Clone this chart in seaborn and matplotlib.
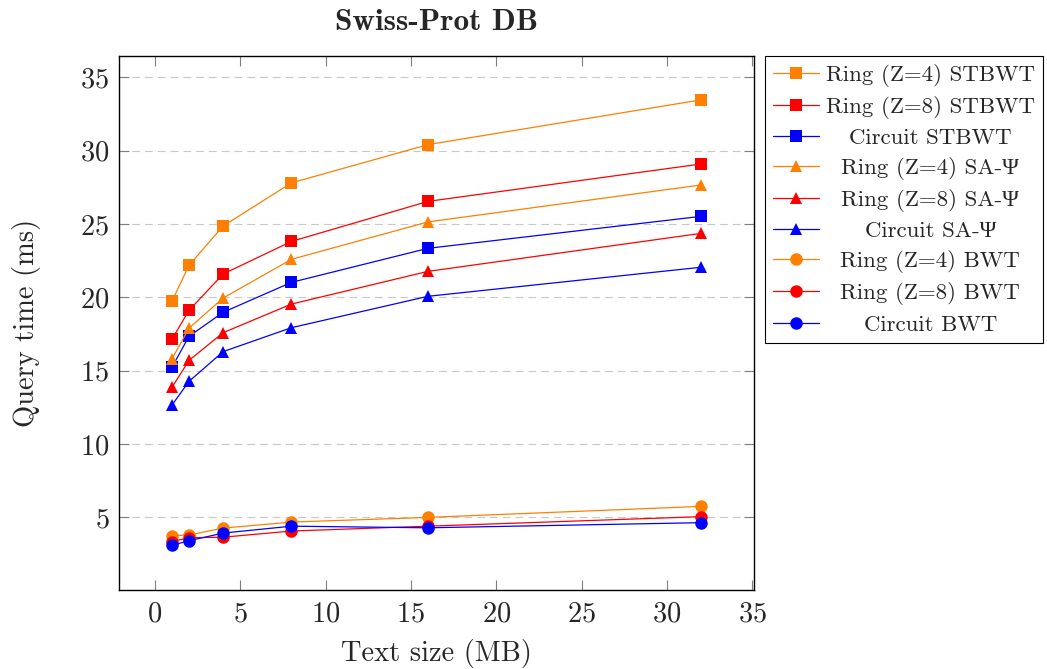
import matplotlib
matplotlib.use("Agg")
import matplotlib.pyplot as plt
import seaborn as sns
import pandas as pd

# Text sizes (MB) and query times (ms)
text_size = [1, 2, 4, 8, 16, 32]

ring4_stbwt = [19.73, 22.18, 24.86, 27.80, 30.41, 33.46]
ring8_stbwt = [17.14, 19.11, 21.59, 23.81, 26.54, 29.09]
circuit_stbwt = [15.23, 17.34, 18.98, 21.02, 23.34, 25.52]
ring4_sapsi = [15.79, 17.90, 19.95, 22.59, 25.14, 27.66]
ring8_sapsi = [13.86, 15.70, 17.59, 19.54, 21.77, 24.36]
circuit_sapsi = [12.65, 14.27, 16.30, 17.93, 20.07, 22.05]
ring4_bwt = [3.75, 3.80, 4.27, 4.68, 5.00, 5.75]
ring8_bwt = [3.35, 3.61, 3.65, 4.07, 4.40, 5.05]
circuit_bwt = [3.09, 3.41, 3.93, 4.40, 4.29, 4.64]

series_names = [
    "Ring (Z=4) STBWT", "Ring (Z=8) STBWT", "Circuit STBWT",
    "Ring (Z=4) SA-Ψ", "Ring (Z=8) SA-Ψ", "Circuit SA-Ψ",
    "Ring (Z=4) BWT", "Ring (Z=8) BWT", "Circuit BWT",
]
series_values = [
    ring4_stbwt, ring8_stbwt, circuit_stbwt,
    ring4_sapsi, ring8_sapsi, circuit_sapsi,
    ring4_bwt, ring8_bwt, circuit_bwt,
]

ORANGE, RED, BLUE = "#ff8000", "#ff0000", "#0000ff"
series_colors = [ORANGE, RED, BLUE] * 3
series_markers = ["s"] * 3 + ["^"] * 3 + ["o"] * 3
marker_sizes = {"s": 8.6, "^": 9.2, "o": 9.0}

sns.set_style("white")
plt.rcParams["font.family"] = ["cmr10", "Liberation Serif", "DejaVu Serif"]
plt.rcParams["mathtext.fontset"] = "cm"
plt.rcParams["axes.formatter.use_mathtext"] = True
plt.rcParams["axes.unicode_minus"] = False

fig = plt.figure(figsize=(10.47, 6.69), dpi=100)
ax = fig.add_axes([119 / 1047, 79 / 669, 635 / 1047, 534 / 669])

for name, vals, col, mk in zip(series_names, series_values,
                               series_colors, series_markers):
    df = pd.DataFrame({"size": text_size, "time": vals})
    sns.lineplot(data=df, x="size", y="time", ax=ax, color=col,
                 marker=mk, markersize=marker_sizes[mk], markeredgewidth=0,
                 linewidth=0.9, label=name, legend=False)

ax.set_xlim(-2.1, 35.1)
ax.set_ylim(0.05, 36.45)
ax.set_xticks(range(0, 36, 5))
ax.set_yticks(range(5, 36, 5))

ax.grid(False)
ax.yaxis.grid(True, color="#c8c8c8", linestyle=(0, (7, 4.5)), linewidth=0.8)
ax.set_axisbelow(True)

for sp in ax.spines.values():
    sp.set_visible(True)
    sp.set_color("black")
    sp.set_linewidth(1.0)

ax.tick_params(axis="both", which="major", direction="in", length=7.5,
               width=0.8, color="#7f7f7f", labelsize=20.5,
               top=True, right=True, bottom=True, left=True)
ax.tick_params(axis="x", pad=8)
ax.tick_params(axis="y", pad=7)

ax.set_xlabel("Text size (MB)", fontsize=20.5, labelpad=8)
ax.set_ylabel("Query time (ms)", fontsize=20.5, labelpad=28)
ax.set_title("Swiss-Prot DB", fontsize=22.5, family=["cmb10", "DejaVu Serif"],
             pad=19)

handles, labels = ax.get_legend_handles_labels()
leg = fig.legend(handles, labels, loc="upper left",
                 bbox_to_anchor=(765 / 1047, 1 - 56 / 669),
                 bbox_transform=fig.transFigure,
                 fontsize=16.5, frameon=True, fancybox=False,
                 edgecolor="black", framealpha=1, handlelength=2.0,
                 handletextpad=0.3, labelspacing=0.395, borderpad=0.35,
                 borderaxespad=0)
leg.get_frame().set_linewidth(0.8)

# Center the legend labels within their column
fig.canvas.draw()
renderer = fig.canvas.get_renderer()
texts = leg.get_texts()
widths = [t.get_window_extent(renderer).width for t in texts]
wmax = max(widths)
for t, w in zip(texts, widths):
    t.set_x((wmax - w) / 2)

fig.savefig("out.png", dpi=100)
